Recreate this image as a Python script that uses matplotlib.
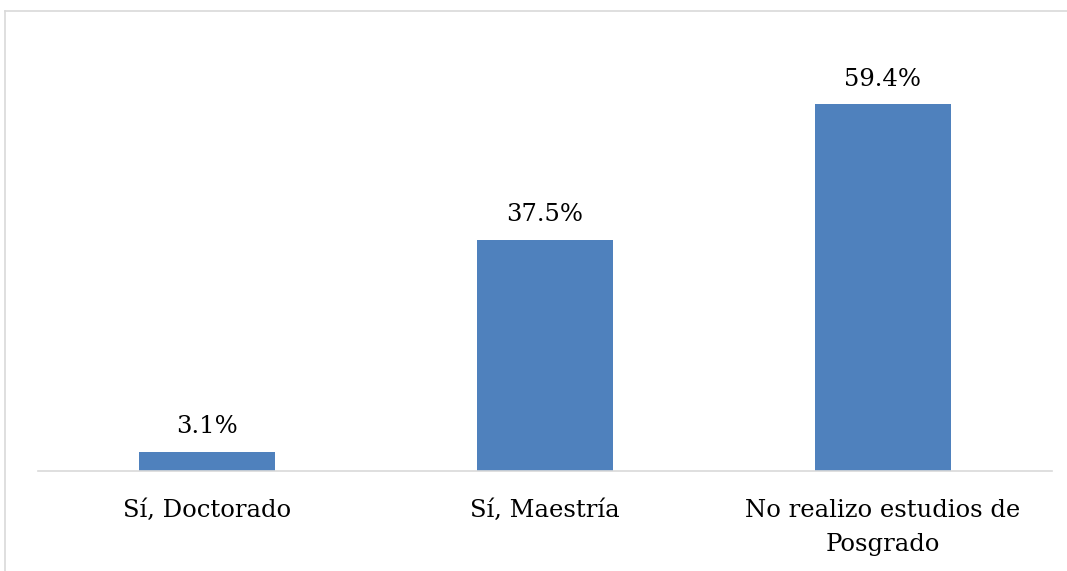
import matplotlib
matplotlib.use("Agg")
import matplotlib.pyplot as plt
from matplotlib.lines import Line2D

categories = ["Sí, Doctorado", "Sí, Maestría", "No realizo estudios de\nPosgrado"]
values = [3.1, 37.5, 59.4]
value_labels = ["3.1%", "37.5%", "59.4%"]

plt.rcParams['font.family'] = ['DejaVu Serif']

fig = plt.figure(figsize=(10.67, 5.71), dpi=100)
ax = fig.add_axes([38/1067, 100/571, 1014/1067, 432/571])

x = list(range(len(categories)))
bars = ax.bar(x, values, width=0.4, color="#4F81BD")
ax.set_xlim(-0.5, 2.5)
ax.set_ylim(0, 70)

for xi, v, lab in zip(x, values, value_labels):
    ax.annotate(lab, (xi, v), xytext=(0, 10), textcoords="offset points",
                ha="center", va="bottom", fontsize=17.5, color="black")

ax.set_xticks(x)
ax.set_xticklabels(categories, fontsize=17.5, linespacing=1.6)
ax.tick_params(axis="x", length=0, pad=20)
ax.set_yticks([])
for s in ["top", "right", "left"]:
    ax.spines[s].set_visible(False)
ax.spines["bottom"].set_color("#d9d9d9")
ax.spines["bottom"].set_linewidth(1.2)

# outer chart border (left and top visible)
fig.add_artist(Line2D([4.5/1067, 4.5/1067], [0, 1 - 10.5/571], transform=fig.transFigure,
                      color="#d9d9d9", lw=1.2))
fig.add_artist(Line2D([4.5/1067, 1], [1 - 10.5/571, 1 - 10.5/571], transform=fig.transFigure,
                      color="#d9d9d9", lw=1.2))

fig.savefig("out.png", dpi=100)
